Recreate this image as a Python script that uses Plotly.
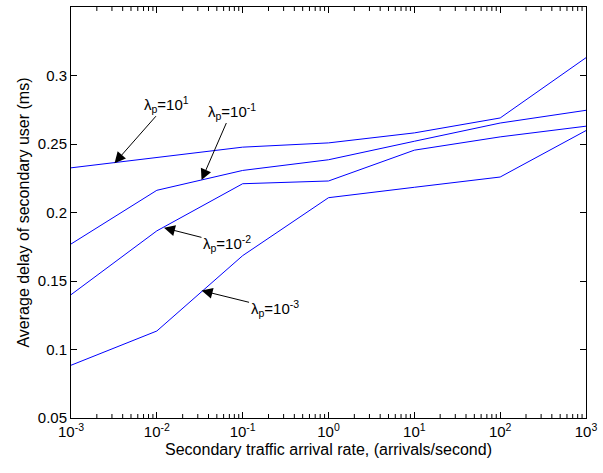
import plotly.graph_objects as go

# Secondary traffic arrival rate (arrivals/second)
arrival_rate = [1e-3, 1e-2, 1e-1, 1e0, 1e1, 1e2, 1e3]

# Average delay of secondary user (ms), one series per primary arrival rate
delay_lp_1e1 = [0.2326, 0.2400, 0.2477, 0.2508, 0.2581, 0.2690, 0.3130]
delay_lp_1e_1 = [0.1770, 0.2162, 0.2307, 0.2385, 0.2520, 0.2653, 0.2746]
delay_lp_1e_2 = [0.1400, 0.1866, 0.2210, 0.2230, 0.2455, 0.2552, 0.2630]
delay_lp_1e_3 = [0.0885, 0.1135, 0.1685, 0.2108, 0.2184, 0.2259, 0.2598]

series = [
    ("λp=10^1", delay_lp_1e1),
    ("λp=10^-1", delay_lp_1e_1),
    ("λp=10^-2", delay_lp_1e_2),
    ("λp=10^-3", delay_lp_1e_3),
]

x_tick_vals = [1e-3, 1e-2, 1e-1, 1e0, 1e1, 1e2, 1e3]
x_tick_text = ["10<sup>-3</sup>", "10<sup>-2</sup>", "10<sup>-1</sup>", "10<sup>0</sup>",
               "10<sup>1</sup>", "10<sup>2</sup>", "10<sup>3</sup>"]
y_tick_vals = [0.05, 0.1, 0.15, 0.2, 0.25, 0.3]
y_tick_text = ["0.05", "0.1", "0.15", "0.2", "0.25", "0.3"]
Y_RANGE = [0.05, 0.35]

# Log-scale minor ticks (2..9 within each decade)
x_minor_vals = [m * d for d in x_tick_vals[:-1] for m in range(2, 10)]

# Curve labels: text, arrow tip (log10 x, y) and text offset in pixels
label_text = ["λ<sub>p</sub>=10<sup>1</sup>", "λ<sub>p</sub>=10<sup>-1</sup>",
              "λ<sub>p</sub>=10<sup>-2</sup>", "λ<sub>p</sub>=10<sup>-3</sup>"]
label_tip_x = [-2.493, -1.479, -1.917, -1.479]
label_tip_y = [0.2360, 0.2237, 0.1888, 0.1430]
label_ax = [52, 30, 63, 73]
label_ay = [-59, -69, 16, 18]

FONT = "Arial, Liberation Sans, sans-serif"
PLOT_HEIGHT_PX = 473 - 6 - 55
MINOR_LEN = (Y_RANGE[1] - Y_RANGE[0]) * 4 / PLOT_HEIGHT_PX  # 4 px in data units

fig = go.Figure()
for name, vals in series:
    fig.add_trace(go.Scatter(
        x=arrival_rate, y=vals, mode="lines", name=name,
        line=dict(color="#0000FF", width=1), showlegend=False,
    ))

# Minor log ticks on the bottom and top frame edges, drawn as short segments
tick_x, tick_y = [], []
for v in x_minor_vals:
    tick_x += [v, v, None, v, v, None]
    tick_y += [Y_RANGE[0], Y_RANGE[0] + MINOR_LEN, None,
               Y_RANGE[1], Y_RANGE[1] - MINOR_LEN, None]
fig.add_trace(go.Scatter(
    x=tick_x, y=tick_y, mode="lines", line=dict(color="black", width=1),
    hoverinfo="skip", showlegend=False, connectgaps=False,
))

for txt, tx, ty, ax, ay in zip(label_text, label_tip_x, label_tip_y, label_ax, label_ay):
    fig.add_annotation(
        x=tx, y=ty, xref="x", yref="y", text=txt, showarrow=True,
        ax=ax, ay=ay, arrowhead=2, arrowsize=2.2, arrowwidth=1,
        arrowcolor="black", font=dict(family=FONT, size=15, color="black"),
        standoff=0,
    )

fig.update_layout(
    width=603, height=473,
    margin=dict(l=71, r=11, t=6, b=55),
    paper_bgcolor="white", plot_bgcolor="white",
    font=dict(family=FONT, size=15, color="black"),
)
fig.update_xaxes(
    type="log", range=[-3, 3],
    tickmode="array", tickvals=x_tick_vals, ticktext=x_tick_text,
    ticks="inside", ticklen=6, tickcolor="black", tickwidth=1,
    ticklabeloverflow="allow",
    showline=True, linecolor="black", linewidth=1, mirror="ticks",
    showgrid=False, zeroline=False,
    title=dict(text="Secondary traffic arrival rate, (arrivals/second)",
               font=dict(size=16), standoff=4),
)
fig.update_yaxes(
    range=Y_RANGE,
    tickmode="array", tickvals=y_tick_vals, ticktext=y_tick_text,
    ticks="inside", ticklen=6, tickcolor="black", tickwidth=1,
    showline=True, linecolor="black", linewidth=1, mirror="ticks",
    showgrid=False, zeroline=False,
    title=dict(text="Average delay of secondary user (ms)",
               font=dict(size=16), standoff=4),
)

fig.write_html("out.html")
